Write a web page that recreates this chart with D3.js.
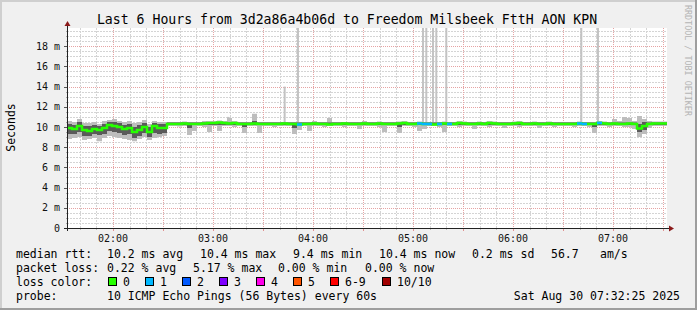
<!DOCTYPE html>
<html>
<head>
<meta charset="utf-8">
<script src="https://cdn.jsdelivr.net/npm/d3@7"></script>
<style>
  body { margin: 0; background: #fff; }
  svg { display: block; }
  text { font-family: "DejaVu Sans Mono", monospace; }
</style>
</head>
<body>
<svg id="chart"></svg>
<script>
// one bin every 3 minutes, 01:32:25 -> 07:32:25 (values in ms)
const startTime = "2025-08-30T01:32:25Z";
const endTime = "2025-08-30T07:32:25Z";
const binMinutes = 3;

const median = [
  9.9, 9.8, 10.1, 9.7, 9.6, 9.8, 9.7, 9.9, 10.2, 10.1, 10.0, 9.8, 9.9, 9.5, 9.7, 10.0, 9.5, 10.1, 9.9, 9.9,
  10.3, 10.3, 10.3, 10.35, 10.3, 10.3, 10.3, 10.35, 10.4, 10.4, 10.45, 10.4, 10.35, 10.4, 10.3, 10.3, 10.3, 10.35, 10.3, 10.3,
  10.3, 10.3, 10.3, 10.35, 10.3, 10.3, 10.25, 10.3, 10.3, 10.35, 10.3, 10.3, 10.25, 10.3, 10.3, 10.35, 10.3, 10.3, 10.3, 10.35,
  10.3, 10.3, 10.35, 10.3, 10.3, 10.3, 10.35, 10.4, 10.3, 10.3, 10.35, 10.3, 10.3, 10.25, 10.3, 10.35, 10.3, 10.3, 10.4, 10.35,
  10.3, 10.3, 10.35, 10.3, 10.4, 10.35, 10.3, 10.3, 10.3, 10.35, 10.4, 10.3, 10.3, 10.35, 10.3, 10.3, 10.35, 10.3, 10.3, 10.3,
  10.3, 10.3, 10.35, 10.3, 10.3, 10.3, 10.4, 10.35, 10.3, 10.35, 10.3, 10.3, 10.35, 10.3, 9.85, 10.1, 10.3, 10.35, 10.35, 10.35
];
const smokeLo = [
  8.8, 8.9, 9.0, 8.7, 8.8, 8.9, 8.6, 8.9, 9.1, 9.0, 8.9, 8.8, 8.7, 8.6, 8.8, 9.0, 8.7, 8.9, 9.0, 9.1,
  10.1, 10.1, 10.05, 10.1, 9.2, 9.6, 10.1, 10.0, 9.5, 10.1, 9.6, 10.1, 10.1, 10.0, 10.1, 9.4, 10.1, 10.1, 9.4, 10.1,
  10.1, 10.0, 10.1, 10.1, 10.1, 9.3, 9.7, 10.1, 9.6, 10.1, 10.1, 10.0, 10.1, 10.1, 10.1, 10.0, 10.1, 10.1, 9.8, 10.1,
  10.1, 10.1, 10.0, 9.5, 10.1, 10.1, 9.4, 10.1, 10.1, 10.0, 9.6, 9.8, 10.1, 10.1, 10.0, 9.5, 10.1, 10.1, 10.0, 10.1,
  10.1, 9.8, 10.1, 10.1, 10.0, 10.1, 10.1, 9.9, 10.1, 10.1, 10.0, 10.1, 10.1, 10.1, 9.9, 10.1, 10.1, 10.0, 10.1, 10.1,
  10.1, 10.0, 10.1, 10.1, 10.0, 9.4, 10.1, 10.1, 10.0, 10.1, 10.1, 10.0, 10.0, 9.8, 9.0, 9.3, 9.9, 10.1, 10.1, 10.1
];
const smokeHi = [
  10.6, 10.5, 10.8, 10.4, 10.4, 10.5, 10.3, 10.6, 10.7, 10.8, 10.6, 10.5, 10.6, 10.4, 10.5, 10.7, 10.3, 10.6, 10.5, 10.5,
  10.5, 10.5, 10.5, 10.55, 10.5, 10.5, 10.5, 10.6, 10.6, 10.6, 10.65, 10.6, 10.9, 10.6, 10.5, 10.5, 10.5, 11.3, 10.5, 10.5,
  10.5, 10.5, 10.5, 10.5, 10.5, 10.5, 10.5, 10.5, 10.5, 10.6, 10.5, 10.5, 10.9, 10.5, 10.5, 10.5, 10.5, 10.5, 10.5, 10.6,
  10.5, 10.5, 10.55, 10.5, 10.5, 10.5, 10.55, 10.6, 10.5, 10.5, 10.55, 10.5, 10.5, 10.5, 10.5, 10.55, 10.5, 10.5, 10.6, 10.55,
  10.5, 10.5, 10.55, 10.5, 10.6, 10.55, 10.5, 10.5, 10.5, 10.55, 10.6, 10.5, 10.5, 10.55, 10.5, 10.5, 10.55, 10.5, 10.5, 10.5,
  10.5, 10.5, 10.55, 10.5, 10.5, 10.5, 10.6, 10.55, 10.5, 10.8, 10.6, 11.0, 10.9, 10.6, 11.1, 10.8, 10.6, 10.55, 10.55, 10.55
];
const coreLo = [
  9.3, 9.3, 9.5, 9.1, 9.1, 9.3, 9.2, 9.3, 9.6, 9.5, 9.4, 9.2, 9.3, 8.9, 9.1, 9.4, 9.0, 9.4, 9.3, 9.4,
  10.2, 10.2, 10.2, 10.2, 9.9, 10.2, 10.2, 10.2, 10.2, 10.2, 10.2, 10.2, 10.2, 10.2, 10.2, 10.0, 10.2, 10.2, 10.2, 10.2,
  10.2, 10.2, 10.2, 10.2, 10.2, 9.9, 10.2, 10.2, 10.2, 10.2, 10.2, 10.2, 10.2, 10.2, 10.2, 10.2, 10.2, 10.2, 10.2, 10.2,
  10.2, 10.2, 10.2, 10.2, 10.2, 10.2, 10.0, 10.2, 10.2, 10.2, 10.2, 10.2, 10.2, 10.2, 10.2, 10.2, 10.2, 10.2, 10.2, 10.2,
  10.2, 10.2, 10.2, 10.2, 10.2, 10.2, 10.2, 10.2, 10.2, 10.2, 10.2, 10.2, 10.2, 10.2, 10.2, 10.2, 10.2, 10.2, 10.2, 10.2,
  10.2, 10.2, 10.2, 10.2, 10.2, 10.0, 10.2, 10.2, 10.2, 10.2, 10.2, 10.2, 10.2, 10.2, 9.5, 9.7, 10.2, 10.2, 10.2, 10.2
];
const coreHi = [
  10.3, 10.2, 10.5, 10.1, 10.1, 10.2, 10.1, 10.3, 10.5, 10.5, 10.4, 10.2, 10.3, 10.0, 10.2, 10.4, 10.0, 10.4, 10.3, 10.3,
  10.45, 10.45, 10.45, 10.45, 10.45, 10.45, 10.45, 10.45, 10.5, 10.5, 10.5, 10.5, 10.45, 10.5, 10.45, 10.45, 10.45, 10.6, 10.45, 10.45,
  10.45, 10.45, 10.45, 10.45, 10.45, 10.45, 10.45, 10.45, 10.45, 10.45, 10.45, 10.45, 10.45, 10.45, 10.45, 10.45, 10.45, 10.45, 10.45, 10.45,
  10.45, 10.45, 10.45, 10.45, 10.45, 10.45, 10.45, 10.5, 10.45, 10.45, 10.45, 10.45, 10.45, 10.45, 10.45, 10.45, 10.45, 10.45, 10.5, 10.45,
  10.45, 10.45, 10.45, 10.45, 10.5, 10.45, 10.45, 10.45, 10.45, 10.45, 10.5, 10.45, 10.45, 10.45, 10.45, 10.45, 10.45, 10.45, 10.45, 10.45,
  10.45, 10.45, 10.45, 10.45, 10.45, 10.45, 10.5, 10.45, 10.45, 10.45, 10.45, 10.45, 10.45, 10.45, 10.3, 10.5, 10.45, 10.45, 10.45, 10.45
];
// bins where 1 of 10 pings was lost
const lossBins = [46, 70, 71, 72, 74, 76, 102, 103, 106];

// single high pings (max of smoke), 25 = off the top of the graph
const spikeTimes = ["03:09", "03:25", "03:43", "03:51", "04:10", "05:06", "05:08", "05:12", "05:14", "05:20", "06:41", "06:51"];
const spikeValues = [11.0, 11.2, 14.0, 25, 10.9, 25, 25, 25, 25, 25, 25, 25];

const yTicks = [0, 2, 4, 6, 8, 10, 12, 14, 16, 18];
const xTicks = ["02:00", "03:00", "04:00", "05:00", "06:00", "07:00"];

const lossLabels = ["0", "1", "2", "3", "4", "5", "6-9", "10/10"];
const lossColors = ["#26ff00", "#00b8ff", "#0059ff", "#7e00ff", "#ff00ea", "#ff5500", "#ff0000", "#a10000"];

const width = 697, height = 310;
const margin = { top: 28, left: 67, right: 30, bottom: 82 };

const svg = d3.select("#chart").attr("width", width).attr("height", height);

// background + 3d frame
svg.append("rect").attr("width", width).attr("height", height).attr("fill", "#f0f0f0");
svg.append("path").attr("d", `M0,${height} V0 H${width}`).attr("fill", "none")
  .attr("stroke", "#cfcfcf").attr("stroke-width", 4);
svg.append("path").attr("d", `M0,${height} H${width} V0`).attr("fill", "none")
  .attr("stroke", "#9e9e9e").attr("stroke-width", 4);

const parseT = d3.utcParse("%Y-%m-%dT%H:%M:%SZ");
const t0 = parseT(startTime), t1 = parseT(endTime);
const hm = (s) => parseT(`2025-08-30T${s}:00Z`);

const x = d3.scaleUtc().domain([t0, t1]).range([margin.left, width - margin.right]);
const y = d3.scaleLinear().domain([0, 19.8]).range([height - margin.bottom, margin.top]);

const binTime = (i) => d3.utcMinute.offset(t0, i * binMinutes);

// canvas
svg.append("rect")
  .attr("x", x.range()[0]).attr("y", y.range()[1])
  .attr("width", x.range()[1] - x.range()[0]).attr("height", y.range()[0] - y.range()[1])
  .attr("fill", "#ffffff");

// grid
const grid = svg.append("g");
const minorY = d3.range(0.5, 19.8, 0.5).filter((v) => v % 2 !== 0);
grid.selectAll(".gy").data(minorY).enter().append("line")
  .attr("x1", x.range()[0]).attr("x2", x.range()[1])
  .attr("y1", (d) => Math.round(y(d)) + 0.5).attr("y2", (d) => Math.round(y(d)) + 0.5)
  .attr("stroke", "#d4d4d4").attr("stroke-dasharray", "2,1");
const minorX = d3.utcMinute.every(10).range(t0, t1).filter((d) => d.getUTCMinutes() % 30 !== 0);
grid.selectAll(".gx").data(minorX).enter().append("line")
  .attr("x1", (d) => Math.round(x(d)) + 0.5).attr("x2", (d) => Math.round(x(d)) + 0.5)
  .attr("y1", y.range()[1]).attr("y2", y.range()[0])
  .attr("stroke", "#d4d4d4").attr("stroke-dasharray", "2,1");
grid.selectAll(".my").data(yTicks.slice(1)).enter().append("line")
  .attr("x1", x.range()[0]).attr("x2", x.range()[1])
  .attr("y1", (d) => Math.round(y(d)) + 0.5).attr("y2", (d) => Math.round(y(d)) + 0.5)
  .attr("stroke", "#e6a3a3").attr("stroke-dasharray", "1,1");
const majorX = d3.utcMinute.every(30).range(t0, t1);
grid.selectAll(".mx").data(majorX).enter().append("line")
  .attr("x1", (d) => Math.round(x(d)) + 0.5).attr("x2", (d) => Math.round(x(d)) + 0.5)
  .attr("y1", y.range()[1]).attr("y2", y.range()[0])
  .attr("stroke", "#e6a3a3").attr("stroke-dasharray", "1,1");

const plot = svg.append("g");

// spikes (single slow pings)
plot.selectAll(".spike").data(spikeTimes).enter().append("rect")
  .attr("x", (d) => x(hm(d)) - 1)
  .attr("width", 2)
  .attr("y", (d, i) => Math.max(y(spikeValues[i]), y.range()[1]))
  .attr("height", (d, i) => y(10.3) - Math.max(y(spikeValues[i]), y.range()[1]))
  .attr("fill", "#c3c3c3");

// smoke
const bins = d3.range(median.length + 1);
const band = (lo, hi) => d3.area()
  .x((i) => x(binTime(i)))
  .y0((i) => y(lo[Math.min(i, lo.length - 1)]))
  .y1((i) => y(hi[Math.min(i, hi.length - 1)]))
  .curve(d3.curveStepAfter);

plot.append("path").datum(bins).attr("d", band(smokeLo, smokeHi)).attr("fill", "#bdbdbd");
plot.append("path").datum(bins).attr("d", band(coreLo, coreHi)).attr("fill", "#5a5a5a");

// median
const medLine = d3.line()
  .x((i) => x(binTime(i)))
  .y((i) => y(median[Math.min(i, median.length - 1)]))
  .curve(d3.curveStepAfter);
plot.append("path").datum(bins).attr("d", medLine)
  .attr("fill", "none").attr("stroke", lossColors[0]).attr("stroke-width", 2.5);

plot.selectAll(".loss").data(lossBins).enter().append("rect")
  .attr("x", (i) => x(binTime(i)))
  .attr("width", (i) => x(binTime(i + 1)) - x(binTime(i)))
  .attr("y", (i) => y(median[i]) - 1.25)
  .attr("height", 2.5)
  .attr("fill", lossColors[1]);

// axes
const axis = svg.append("g");
axis.selectAll(".ytick").data(d3.range(0, 19.8, 0.5)).enter().append("line")
  .attr("x1", (d) => x.range()[0] - (d % 2 === 0 ? 3 : 1)).attr("x2", x.range()[0])
  .attr("y1", (d) => Math.round(y(d)) + 0.5).attr("y2", (d) => Math.round(y(d)) + 0.5)
  .attr("stroke", (d) => (d % 2 === 0 ? "#555" : "#aaa"));
axis.selectAll(".xtick").data(d3.utcMinute.every(10).range(t0, t1)).enter().append("line")
  .attr("x1", (d) => Math.round(x(d)) + 0.5).attr("x2", (d) => Math.round(x(d)) + 0.5)
  .attr("y1", y.range()[0]).attr("y2", (d) => y.range()[0] + (d.getUTCMinutes() % 30 === 0 ? 3 : 2))
  .attr("stroke", (d) => (d.getUTCMinutes() % 30 === 0 ? "#e09090" : "#bbb"));

axis.append("line")
  .attr("x1", x.range()[0] - 3).attr("x2", x.range()[1] + 4)
  .attr("y1", y.range()[0] + 0.5).attr("y2", y.range()[0] + 0.5)
  .attr("stroke", "#222");
axis.append("line")
  .attr("x1", x.range()[0] + 0.5).attr("x2", x.range()[0] + 0.5)
  .attr("y1", y.range()[0] + 3).attr("y2", y.range()[1] - 5)
  .attr("stroke", "#222");
axis.append("path")
  .attr("d", `M${x.range()[0] - 2.5},${y.range()[1] - 2} L${x.range()[0] + 0.5},${y.range()[1] - 7} L${x.range()[0] + 3.5},${y.range()[1] - 2}Z`)
  .attr("fill", "#8b1a1a");
axis.append("path")
  .attr("d", `M${x.range()[1] + 2},${y.range()[0] - 2.5} L${x.range()[1] + 7},${y.range()[0] + 0.5} L${x.range()[1] + 2},${y.range()[0] + 3.5}Z`)
  .attr("fill", "#8b1a1a");

axis.selectAll(".ylab").data(yTicks).enter().append("text")
  .attr("x", 60).attr("y", (d) => y(d) + 3.7)
  .attr("text-anchor", "end").attr("font-size", "10px").attr("fill", "#111")
  .text((d) => (d === 0 ? "0" : `${d} m`));
axis.selectAll(".xlab").data(xTicks).enter().append("text")
  .attr("x", (d) => x(hm(d))).attr("y", 241.5)
  .attr("text-anchor", "middle").attr("font-size", "10px").attr("fill", "#111")
  .text((d) => d);

// titles
svg.append("text").attr("x", 347).attr("y", 23.5).attr("text-anchor", "middle")
  .attr("font-size", "13.2px").attr("fill", "#000")
  .text("Last 6 Hours from 3d2a86a4b06d to Freedom Milsbeek FttH AON KPN");
svg.append("text").attr("transform", "translate(14.5,127.5) rotate(-90)")
  .attr("text-anchor", "middle").attr("font-size", "11.5px").attr("fill", "#000")
  .text("Seconds");
svg.append("text").attr("transform", "translate(684.5,5) rotate(90)")
  .attr("font-size", "8.4px").attr("fill", "#b4b4b4")
  .text("RRDTOOL / TOBI OETIKER");

// legend
const legend = svg.append("g").attr("font-size", "11.5px").attr("fill", "#000");
const rows = [
  [[16, "median rtt:"], [107, "10.2 ms avg"], [200, "10.4 ms max"], [293, "9.4 ms min"], [379, "10.4 ms now"], [472, "0.2 ms sd"], [551, "56.7"], [600, "am/s"]],
  [[16, "packet loss:"], [107, "0.22 % avg"], [193, "5.17 % max"], [278, "0.00 % min"], [365, "0.00 % now"]],
  [[16, "loss color:"]],
  [[16, "probe:"], [107, "10 ICMP Echo Pings (56 Bytes) every 60s"]]
];
const rowY = [258, 272, 286, 300];
rows.forEach((row, r) => {
  row.forEach(([lx, s]) => {
    legend.append("text").attr("x", lx).attr("y", rowY[r]).attr("xml:space", "preserve").text(s);
  });
});
const boxX = [108, 145, 182, 219, 256, 293, 330, 382];
lossLabels.forEach((lab, i) => {
  legend.append("rect").attr("x", boxX[i] + 0.5).attr("y", 277.5).attr("width", 8).attr("height", 8)
    .attr("fill", lossColors[i]).attr("stroke", "#000").attr("stroke-width", 1);
  legend.append("text").attr("x", boxX[i] + 15).attr("y", rowY[2]).text(lab);
});
legend.append("text").attr("x", 680).attr("y", rowY[3]).attr("text-anchor", "end")
  .text("Sat Aug 30 07:32:25 2025");
</script>
</body>
</html>
